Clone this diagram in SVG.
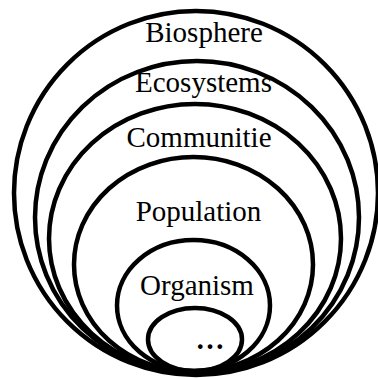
<svg xmlns="http://www.w3.org/2000/svg" width="378" height="379" viewBox="0 0 378 379">
<style>
.ring{fill:none;stroke:#000;stroke-width:4.5}
.lbl{font-family:"Liberation Serif","Times New Roman",serif;font-size:29px;fill:#000;text-anchor:middle}
</style>
<rect width="378" height="379" fill="#fff"/>
<g id="biosphere"><ellipse class="ring" cx="196" cy="193" rx="182" ry="182"/><text class="lbl" x="204" y="42">Biosphere</text></g>
<g id="ecosystems"><ellipse class="ring" cx="197" cy="217.5" rx="162" ry="156.5"/><text class="lbl" x="203.5" y="92">Ecosystems</text></g>
<g id="communitie"><ellipse class="ring" cx="195" cy="238.5" rx="146" ry="134.5"/><text class="lbl" x="199" y="147">Communitie</text></g>
<g id="population"><ellipse class="ring" cx="193.5" cy="264.5" rx="119.5" ry="107.5"/><text class="lbl" x="198.5" y="221">Population</text></g>
<g id="organism"><ellipse class="ring" cx="193.5" cy="305.5" rx="76.5" ry="65.5"/><text class="lbl" x="197" y="295">Organism</text></g>
<g id="ellipsis"><ellipse class="ring" cx="195" cy="339.5" rx="47" ry="31.5"/><text class="lbl" x="210" y="349" font-weight="bold">…</text></g>
<g id="connectors"/>
</svg>
